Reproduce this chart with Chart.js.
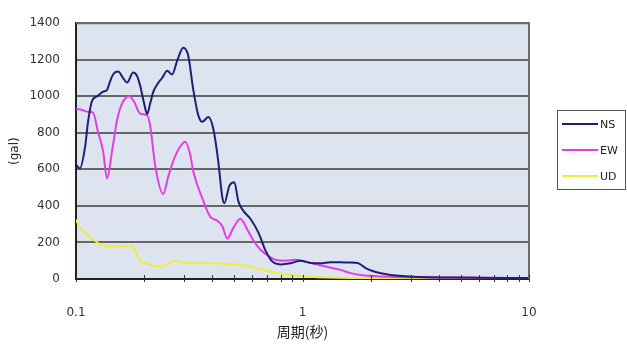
<!DOCTYPE html>
<html>
<head>
<meta charset="utf-8">
<script src="https://cdn.jsdelivr.net/npm/chart.js@4/dist/chart.umd.min.js"></script>
<style>
  html, body { margin: 0; padding: 0; background: #ffffff; }
  #wrap { width: 627px; height: 344px; }
</style>
</head>
<body>
<div id="wrap"><canvas id="spectrum" width="627" height="344"></canvas></div>
<script>
// Response spectra (gal) against period (s), three components
const seriesNames = ['NS', 'EW', 'UD'];
const seriesColors = ['#1f1f74', '#e23fe2', '#eeee3a'];

const nsPeriod = [0.1, 0.104, 0.1096, 0.113, 0.1177, 0.1239, 0.1317, 0.1371, 0.1413, 0.1458,
  0.1534, 0.1614, 0.1681, 0.1787, 0.1862, 0.1918, 0.1999, 0.2061, 0.2125, 0.219,
  0.2283, 0.24, 0.2526, 0.2657, 0.2796, 0.2975, 0.313, 0.3293, 0.3465, 0.3609,
  0.3837, 0.4038, 0.4248, 0.4422, 0.4517, 0.4753, 0.5001, 0.521, 0.5482, 0.5886,
  0.6389, 0.686, 0.7365, 0.7994, 0.885, 0.98, 1.085, 1.201, 1.33, 1.473,
  1.631, 1.751, 1.9, 2.104, 2.452, 3.327, 5.0, 10];
const nsValue = [627, 605, 720, 860, 975, 1000, 1025, 1035, 1080, 1119,
  1135, 1100, 1075, 1130, 1110, 1060, 960, 903, 960, 1021,
  1065, 1100, 1140, 1119, 1194, 1265, 1222, 1038, 897, 860,
  886, 822, 643, 450, 415, 510, 530, 425, 373, 330,
  254, 157, 95, 80, 86, 100, 88, 86, 92, 92,
  90, 88, 60, 38, 22, 11, 8, 5];

const ewPeriod = [0.1, 0.1063, 0.113, 0.1189, 0.1251, 0.1317, 0.1371, 0.1443, 0.1518, 0.1597,
  0.1716, 0.1806, 0.1918, 0.2061, 0.2125, 0.2237, 0.2427, 0.2554, 0.2714, 0.2885,
  0.3036, 0.3195, 0.3293, 0.3647, 0.3917, 0.4206, 0.4422, 0.4657, 0.4951, 0.5317,
  0.571, 0.607, 0.6522, 0.7003, 0.7595, 0.8409, 0.9312, 1.031, 1.142, 1.264,
  1.473, 1.631, 1.806, 2.214, 3.327, 10];
const ewValue = [930, 925, 915, 910, 805, 700, 550, 700, 870, 960,
  1000, 970, 905, 895, 840, 620, 465, 560, 660, 725,
  751, 680, 590, 427, 340, 319, 290, 222, 280, 330,
  270, 211, 160, 130, 105, 100, 105, 95, 82, 68,
  50, 32, 22, 14, 9, 5];

const udPeriod = [0.1, 0.1041, 0.1096, 0.1153, 0.1214, 0.1277, 0.1414, 0.1565, 0.1734, 0.1807,
  0.1862, 0.1918, 0.202, 0.2169, 0.2306, 0.2427, 0.2606, 0.277, 0.2944, 0.3362,
  0.3917, 0.4801, 0.5595, 0.6522, 0.7595, 0.885, 1.085, 1.631, 10];
const udValue = [325, 280, 255, 225, 210, 190, 178, 178, 180, 165,
  130, 100, 88, 75, 68, 72, 90, 100, 92, 88,
  86, 82, 72, 52, 35, 22, 12, 6, 3];

const periodTicks = [0.1, 1, 10];
const accelTicks = [0, 200, 400, 600, 800, 1000, 1200, 1400];

const periods = [nsPeriod, ewPeriod, udPeriod];
const values = [nsValue, ewValue, udValue];

// Minor tick positions: 1..9 times each labelled decade
const minorTicks = [];
periodTicks.slice(0, -1).forEach(d => {
  for (let m = 1; m <= 9; m++) minorTicks.push(+(d * m).toPrecision(6));
});
minorTicks.push(periodTicks[periodTicks.length - 1]);

const datasets = seriesNames.map((name, i) => ({
  label: name,
  data: periods[i].map((p, k) => ({ x: p, y: values[i][k] })),
  borderColor: seriesColors[i],
  backgroundColor: seriesColors[i],
  borderWidth: 2,
  pointRadius: 0,
  fill: false,
  cubicInterpolationMode: 'monotone'
}));

// Pale plot background, grey frame on the top and right, short ticks across the period axis
const plotFrame = {
  id: 'plotFrame',
  beforeDraw(chart) {
    const { ctx, chartArea: a } = chart;
    ctx.save();
    ctx.fillStyle = '#dde4ef';
    ctx.fillRect(a.left, a.top, a.right - a.left, a.bottom - a.top);
    ctx.restore();
  },
  afterDatasetsDraw(chart) {
    const { ctx, chartArea: a, scales } = chart;
    ctx.save();
    ctx.strokeStyle = '#6b6b6b';
    ctx.lineWidth = 2;
    ctx.beginPath();
    ctx.moveTo(a.left, a.top);
    ctx.lineTo(a.right, a.top);
    ctx.lineTo(a.right, a.bottom);
    ctx.stroke();
    ctx.strokeStyle = '#333';
    ctx.lineWidth = 1;
    ctx.beginPath();
    scales.x.ticks.forEach(t => {
      const px = Math.round(scales.x.getPixelForValue(t.value)) + 0.5;
      ctx.moveTo(px, a.bottom - 4);
      ctx.lineTo(px, a.bottom + 3);
    });
    ctx.stroke();
    ctx.restore();
  }
};

// Boxed legend to the right of the plot
const boxedLegend = {
  id: 'boxedLegend',
  afterDraw(chart) {
    const { ctx, chartArea: a } = chart;
    const left = a.right + 28, top = 110, w = 68, h = 79;
    ctx.save();
    ctx.strokeStyle = '#555';
    ctx.lineWidth = 1;
    ctx.strokeRect(left + 0.5, top + 0.5, w, h);
    chart.data.datasets.forEach((ds, i) => {
      const y = top + 14 + i * 26;
      ctx.strokeStyle = ds.borderColor;
      ctx.lineWidth = 2;
      ctx.beginPath();
      ctx.moveTo(left + 5, y);
      ctx.lineTo(left + 41, y);
      ctx.stroke();
      ctx.fillStyle = '#222';
      ctx.font = '11px "DejaVu Sans"';
      ctx.textBaseline = 'middle';
      ctx.textAlign = 'left';
      ctx.fillText(ds.label, left + 43, y + 1);
    });
    ctx.restore();
  }
};

new Chart(document.getElementById('spectrum'), {
  type: 'line',
  data: { datasets },
  options: {
    responsive: false,
    animation: false,
    layout: { padding: { top: 20, right: 98, left: 0, bottom: 0 } },
    plugins: { legend: { display: false }, tooltip: { enabled: false } },
    scales: {
      x: {
        type: 'logarithmic',
        min: periodTicks[0],
        max: periodTicks[periodTicks.length - 1],
        afterFit(s) { s.height = 65; },
        afterBuildTicks(s) { s.ticks = minorTicks.map(v => ({ value: v })); },
        grid: { display: false },
        border: { display: true, color: '#222', width: 2 },
        ticks: {
          autoSkip: false, maxRotation: 0, padding: 19, color: '#333',
          font: { family: 'DejaVu Sans', size: 12 },
          callback(v, idx) {
            const t = minorTicks[idx];
            return periodTicks.includes(t) ? String(t) : '';
          }
        },
        title: {
          display: true, text: '周期(秒)', color: '#222',
          font: { family: 'Noto Sans CJK JP', size: 14 },
          padding: { top: 0, bottom: 4 }
        }
      },
      y: {
        min: accelTicks[0],
        max: accelTicks[accelTicks.length - 1],
        afterFit(s) { s.width = 76; },
        afterBuildTicks(s) { s.ticks = accelTicks.map(v => ({ value: v })); },
        grid: { color: '#666', lineWidth: 2, drawTicks: false },
        border: { display: true, color: '#222', width: 2 },
        ticks: {
          padding: 16, color: '#333', font: { family: 'DejaVu Sans', size: 12 },
          callback(v) { return String(v); }
        },
        title: {
          display: true, text: '(gal)', color: '#222',
          font: { family: 'DejaVu Sans', size: 12 },
          padding: { top: 8, bottom: 0 }
        }
      }
    }
  },
  plugins: [plotFrame, boxedLegend]
});
</script>
</body>
</html>
